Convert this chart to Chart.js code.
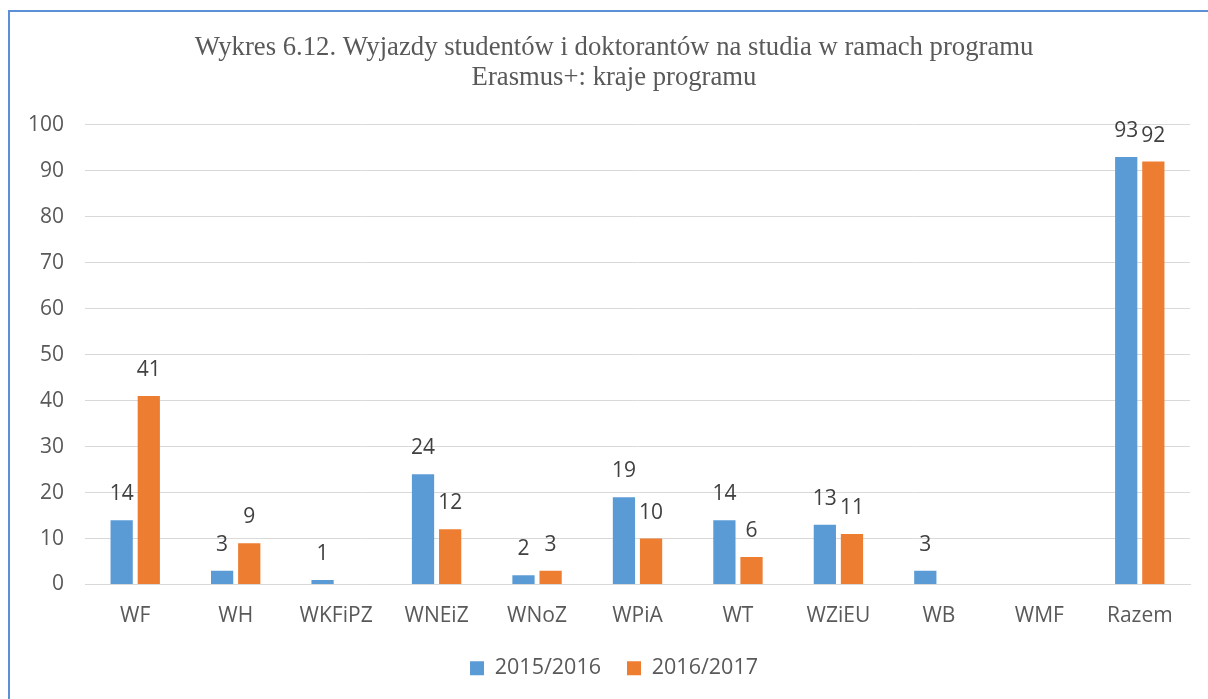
<!DOCTYPE html>
<html>
<head>
<meta charset="utf-8">
<script src="https://cdn.jsdelivr.net/npm/chart.js@4"></script>
<style>
  html, body { margin: 0; padding: 0; background: #fff; overflow: hidden; }
  #frame {
    position: absolute; left: 8px; top: 10px;
    width: 1212px; height: 700px;
    border-left: 2px solid #5b8fd6; border-top: 2px solid #5b8fd6;
  }
  #chart { display: block; }
</style>
</head>
<body>
<div id="frame"><canvas id="chart" width="1208" height="689"></canvas></div>
<script>
const categories = ['WF', 'WH', 'WKFiPZ', 'WNEiZ', 'WNoZ', 'WPiA', 'WT', 'WZiEU', 'WB', 'WMF', 'Razem'];
const values1516 = [14, 3, 1, 24, 2, 19, 14, 13, 3, 0, 93];
const values1617 = [41, 9, 0, 12, 3, 10, 6, 11, 0, 0, 92];
const yTicks = [0, 10, 20, 30, 40, 50, 60, 70, 80, 90, 100];

const textColor = '#595959';
const baseFont = "'Open Sans', sans-serif";

// value labels above each bar, zeros skipped
const barLabels = {
  id: 'barLabels',
  afterDatasetsDraw(chart) {
    const ctx = chart.ctx;
    ctx.save();
    ctx.font = '21px ' + baseFont;
    ctx.fillStyle = '#404040';
    ctx.textAlign = 'center';
    ctx.textBaseline = 'middle';
    chart.data.datasets.forEach((ds, i) => {
      chart.getDatasetMeta(i).data.forEach((bar, j) => {
        const v = ds.data[j];
        if (!v) return;
        ctx.fillText(String(v), bar.x, bar.y - 26);
      });
    });
    ctx.restore();
  }
};

const ctx = document.getElementById('chart').getContext('2d');
const myChart = new Chart(ctx, {
  type: 'bar',
  data: {
    labels: categories,
    datasets: [{
      label: '2015/2016',
      data: values1516,
      backgroundColor: '#5b9bd5',
      barPercentage: 0.82,
      categoryPercentage: 0.54
    }, {
      label: '2016/2017',
      data: values1617,
      backgroundColor: '#ed7d31',
      barPercentage: 0.82,
      categoryPercentage: 0.54
    }]
  },
  options: {
    responsive: false,
    animation: false,
    layout: { padding: { left: 0, right: 0, top: 0, bottom: 12 } },
    plugins: {
      title: {
        display: true,
        text: ['Wykres 6.12. Wyjazdy studentów i doktorantów na studia w ramach programu', 'Erasmus+: kraje programu'],
        color: textColor,
        font: { family: "'Liberation Serif', serif", size: 26.7, weight: 'normal', lineHeight: 1.12 },
        padding: { top: 21, bottom: 32 }
      },
      legend: {
        position: 'bottom',
        labels: {
          color: textColor,
          font: { family: baseFont, size: 21.5 },
          boxWidth: 14,
          boxHeight: 14,
          padding: 26
        }
      },
      tooltip: { enabled: false }
    },
    scales: {
      x: {
        grid: { display: false, drawTicks: false },
        border: { color: '#d9d9d9' },
        afterFit: (axis) => { axis.height = 47; },
        ticks: { color: textColor, font: { family: baseFont, size: 21 }, padding: 19 }
      },
      y: {
        min: 0,
        max: 100,
        afterBuildTicks: (axis) => { axis.ticks = yTicks.map(v => ({ value: v })); },
        afterFit: (axis) => { axis.width = 75; },
        grid: { color: '#d9d9d9', drawTicks: false },
        border: { display: false },
        ticks: { color: textColor, font: { family: baseFont, size: 21 }, padding: 21 }
      },
      // empty right margin so the title and legend centre like the original
      yRight: {
        position: 'right',
        min: 0,
        max: 100,
        afterFit: (axis) => { axis.width = 28; },
        grid: { display: false, drawTicks: false },
        border: { display: false },
        ticks: { display: false }
      }
    }
  },
  plugins: [barLabels]
});
</script>
</body>
</html>
